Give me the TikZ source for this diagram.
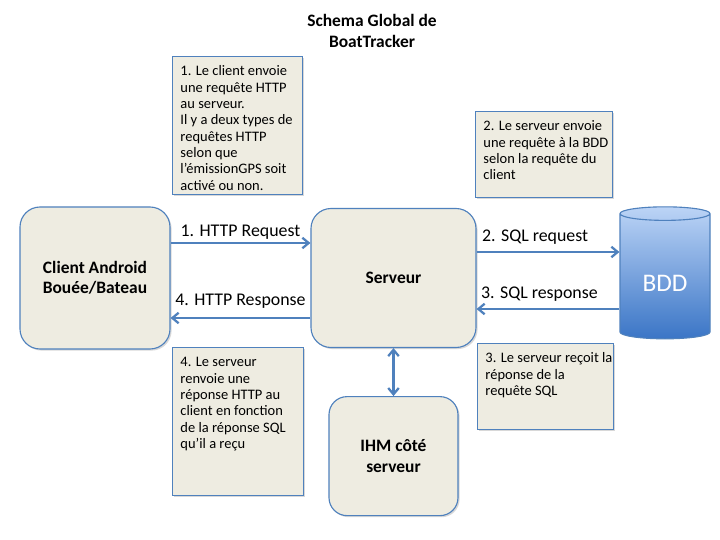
\documentclass[tikz,border=0pt]{standalone}
\usepackage{fontspec}
\setmainfont{Carlito}
\usepackage{xcolor}
\definecolor{beige}{RGB}{238,236,225}
\definecolor{frame}{RGB}{79,129,189}
\definecolor{link}{RGB}{79,129,189}
\definecolor{dbtop}{RGB}{188,212,246}
\definecolor{dbbottom}{RGB}{58,117,198}
\usepackage{tikz}
\usetikzlibrary{
    shapes.geometric,
    arrows.meta,
    positioning,
    shadows
}
\newcommand{\notebody}[3]{\parbox[c][#2][t]{#1}{\begin{tabular}[t]{@{}l@{}}#3\end{tabular}}}

\begin{document}
\begin{tikzpicture}[
        box/.style={rectangle, rounded corners=0.5cm, draw=frame, line width=0.8pt, fill=beige, align=center, font=\fontsize{12.4}{14.4}\selectfont\bfseries, drop shadow={shadow xshift=0.04cm, shadow yshift=-0.04cm, opacity=0.3}},
        note/.style={rectangle, draw=frame, line width=0.7pt, fill=beige, anchor=north west, inner sep=0.2cm, font=\fontsize{10.3}{11.6}\selectfont, drop shadow={shadow xshift=0.04cm, shadow yshift=-0.04cm, opacity=0.3}},
        database/.style={cylinder, shape border rotate=90, aspect=0.25, draw=frame, line width=0.8pt, minimum width=2.25cm, minimum height=3.3cm, shading=axis, top color=dbtop, bottom color=dbbottom, text=white, font=\fontsize{18}{21}\selectfont},
        flow/.style={-{Straight Barb[length=4.5pt,width=7.5pt]}, line width=1.6pt, draw=link, font=\fontsize{12.7}{15}\selectfont},
        flowboth/.style={{Straight Barb[length=4.5pt,width=7.5pt]}-{Straight Barb[length=4.5pt,width=7.5pt]}, line width=1.6pt, draw=link},
        heading/.style={align=center, font=\fontsize{12.4}{15.4}\selectfont\bfseries}
    ]
        \path[use as bounding box, fill=white] (0,0) rectangle (18,13.5);

        \node[heading] (title) at (9.3,12.725) {Schema Global de\\BoatTracker};

        \node[box, minimum width=3.75cm, minimum height=3.55cm] (client) at (2.375,6.55) {Client Android\\Bouée/Bateau};
        \node[box, minimum width=4.125cm, minimum height=3.475cm] (serveur) at (9.8375,6.55) {Serveur};
        \node[box, rounded corners=0.45cm, minimum width=3.225cm, minimum height=2.975cm, below=1.2cm of serveur] (ihm) {IHM côté\\serveur};
        \node[database] (bdd) at (16.625,6.55) {\raisebox{-9.8pt}[0pt][0pt]{BDD}};

        % notes
        \node[note] (noteclient) at (4.3,12.1) {\notebody{2.85cm}{3.05cm}{1. Le client envoie\\une requête HTTP\\au serveur.\\Il y a deux types de\\requêtes HTTP\\selon que\\l’émissionGPS soit\\activé ou non.}};
        \node[note] (notebdd) at (11.875,10.73) {\notebody{3.025cm}{1.765cm}{2. Le serveur envoie\\une requête à la BDD\\selon la requête du\\client}};
        \node[note] (notesql) at (11.925,4.925) {\notebody{3.0cm}{1.75cm}{3. Le serveur reçoit la\\réponse de la\\requête SQL}};
        \node[note] (notereponse) at (4.3,4.825) {\notebody{2.875cm}{3.3cm}{4. Le serveur\\renvoie une\\réponse HTTP au\\client en fonction\\de la réponse SQL\\qu’il a reçu}};

        \draw[flow] ([yshift=0.875cm]client.east) -- node[above=0.6pt, inner sep=1.5pt] {1. HTTP Request} ([yshift=0.875cm]serveur.west);
        \draw[flow] ([yshift=-1cm]serveur.west) -- node[above=4.3pt, inner sep=1.5pt] {4. HTTP Response} ([yshift=-1cm]client.east);
        \draw[flow] ([yshift=0.65cm]serveur.east) -- node[above=2.8pt, inner sep=1.5pt, pos=0.41] {2. SQL request} ([yshift=0.65cm]bdd.180);
        \draw[flow] ([yshift=-0.775cm]bdd.180) -- node[above=2.8pt, inner sep=1.5pt, pos=0.56] {3. SQL response} ([yshift=-0.775cm]serveur.east);
        \draw[flowboth] (serveur.south) -- (ihm.north);
    \end{tikzpicture}
\end{document}
